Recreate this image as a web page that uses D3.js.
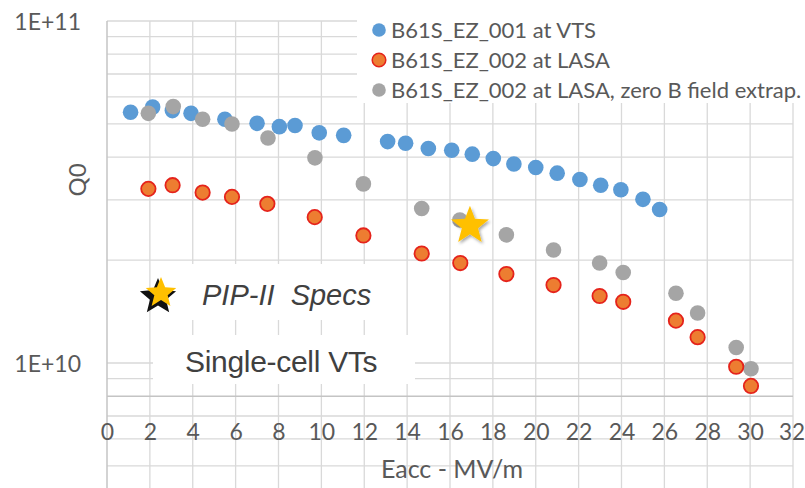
<!DOCTYPE html>
<html>
<head>
<meta charset="utf-8">
<script src="https://cdn.jsdelivr.net/npm/d3@7"></script>
<style>
  html, body { margin: 0; padding: 0; background: #fff; }
  svg { display: block; }
</style>
</head>
<body>
<svg id="chart" width="805" height="488"></svg>
<script>
// ---- data: Q0 versus accelerating gradient (MV/m) ----
const vtsEacc = [1.1, 2.13, 3.05, 3.92, 5.5, 7.0, 8.04, 8.77, 9.9, 11.04, 13.09, 13.93, 14.99, 16.08, 17.04, 18.02, 18.98, 20.0, 21.0, 22.06, 23.03, 23.97, 25.0, 25.78];
const vtsQ0 = [5.41e10, 5.60e10, 5.47e10, 5.37e10, 5.16e10, 5.02e10, 4.91e10, 4.95e10, 4.71e10, 4.63e10, 4.44e10, 4.39e10, 4.24e10, 4.19e10, 4.08e10, 3.96e10, 3.82e10, 3.73e10, 3.59e10, 3.44e10, 3.31e10, 3.21e10, 3.01e10, 2.81e10];

const lasaEacc = [1.93, 3.06, 4.46, 5.83, 7.48, 9.69, 11.96, 14.68, 16.48, 18.63, 20.83, 22.98, 24.08, 26.54, 27.55, 29.35, 30.04];
const lasaQ0 = [3.23e10, 3.31e10, 3.15e10, 3.06e10, 2.92e10, 2.67e10, 2.36e10, 2.09e10, 1.96e10, 1.82e10, 1.69e10, 1.57e10, 1.51e10, 1.33e10, 1.19e10, 9.75e9, 8.57e9];

const extrapEacc = [1.93, 3.09, 4.46, 5.83, 7.51, 9.70, 11.96, 14.68, 16.46, 18.63, 20.83, 22.98, 24.08, 26.54, 27.55, 29.35, 30.04];
const extrapQ0 = [5.37e10, 5.62e10, 5.16e10, 5.00e10, 4.55e10, 3.98e10, 3.34e10, 2.83e10, 2.62e10, 2.37e10, 2.14e10, 1.96e10, 1.84e10, 1.60e10, 1.40e10, 1.11e10, 9.62e9];

// PIP-II specification point
const specEacc = [16.93];
const specQ0 = [2.52e10];

const seriesNames = ["B61S_EZ_001 at VTS", "B61S_EZ_002 at LASA", "B61S_EZ_002 at LASA, zero B field extrap."];
const xTicks = [0, 2, 4, 6, 8, 10, 12, 14, 16, 18, 20, 22, 24, 26, 28, 30, 32];
const yTicks = [1e10, 1e11];
const yTickLabels = ["1E+10", "1E+11"];
const yGridValues = [5e9, 6e9, 7e9, 9e9, 1e10, 2e10, 3e10, 4e10, 5e10, 6e10, 7e10, 8e10, 9e10, 1e11];
const xAxisAt = 8e9;
const xTitle = "Eacc - MV/m";
const yTitle = "Q0";

// ---- layout ----
const W = 805, H = 488;
const x = d3.scaleLinear().domain([0, 32]).range([107, 793]);
const y = d3.scaleLog().domain([1e10, 1e11]).range([363, 21]);

const svg = d3.select("#chart");
const excelFont = "Lato, 'Open Sans', sans-serif";
const arialFont = "'Liberation Sans', Arial, sans-serif";

const defs = svg.append("defs");
const shadow = defs.append("filter").attr("id", "soft").attr("x", "-50%").attr("y", "-50%").attr("width", "200%").attr("height", "200%");
shadow.append("feDropShadow").attr("dx", 1.5).attr("dy", 2).attr("stdDeviation", 1.5)
  .attr("flood-color", "#000").attr("flood-opacity", 0.35);

// ---- grid ----
const grid = svg.append("g");
grid.selectAll("line.h").data(yGridValues).join("line")
  .attr("x1", x(0)).attr("x2", x(32))
  .attr("y1", d => y(d)).attr("y2", d => y(d))
  .attr("stroke", "#d9d9d9").attr("stroke-width", 1.3);
grid.selectAll("line.v").data(xTicks.slice(1)).join("line")
  .attr("x1", d => x(d)).attr("x2", d => x(d))
  .attr("y1", y(1e11)).attr("y2", H)
  .attr("stroke", "#d9d9d9").attr("stroke-width", 1.3);

// axis lines
svg.append("line")
  .attr("x1", x(0)).attr("x2", x(32)).attr("y1", y(xAxisAt)).attr("y2", y(xAxisAt))
  .attr("stroke", "#c4c4c4").attr("stroke-width", 1.5);
svg.append("line")
  .attr("x1", x(0)).attr("x2", x(0)).attr("y1", y(1e11)).attr("y2", H)
  .attr("stroke", "#c4c4c4").attr("stroke-width", 1.5);

// ---- white panels for legend and annotations ----
svg.append("rect").attr("x", 357).attr("y", 0).attr("width", W - 357).attr("height", 103).attr("fill", "#fff");
svg.append("rect").attr("x", 153).attr("y", 264).attr("width", 247).attr("height", 56).attr("fill", "#fff");
svg.append("rect").attr("x", 153).attr("y", 335).attr("width", 262).attr("height", 49).attr("fill", "#fff");

// ---- axes labels ----
const xAxis = svg.append("g")
  .attr("transform", `translate(0,${y(xAxisAt)})`)
  .call(d3.axisBottom(x).tickValues(xTicks).tickSize(0).tickFormat(d3.format("d")));
xAxis.select(".domain").remove();
xAxis.selectAll("text")
  .attr("y", 36).attr("dy", "0.35em")
  .attr("font-family", excelFont).attr("font-size", 23).attr("fill", "#595959");
// keep the last label inside the page edge
xAxis.selectAll(".tick").filter(d => d === 32).select("text").attr("x", -1.5).attr("font-size", 22.5);

const yAxis = svg.append("g")
  .attr("transform", `translate(${x(0)},0)`)
  .call(d3.axisLeft(y).tickValues(yTicks).tickSize(0).tickFormat((d, i) => yTickLabels[i]));
yAxis.select(".domain").remove();
yAxis.selectAll("text")
  .attr("x", -26).attr("dy", "0.35em")
  .attr("font-family", excelFont).attr("font-size", 23).attr("fill", "#595959");

svg.append("text")
  .attr("x", 452).attr("y", 478).attr("text-anchor", "middle")
  .attr("font-family", excelFont).attr("font-size", 25).attr("fill", "#595959")
  .text(xTitle);
svg.append("text")
  .attr("transform", "translate(86,180) rotate(-90)").attr("text-anchor", "middle")
  .attr("font-family", excelFont).attr("font-size", 24).attr("fill", "#595959")
  .text(yTitle);

// ---- star path helper ----
function starPath(R, r) {
  const pts = [];
  for (let i = 0; i < 10; i++) {
    const a = -Math.PI / 2 + i * Math.PI / 5;
    const rad = i % 2 === 0 ? R : r;
    pts.push([rad * Math.cos(a), rad * Math.sin(a)]);
  }
  return d3.line()(pts) + "Z";
}

// ---- data series ----
const pts = svg.append("g");
pts.selectAll("circle.vts").data(vtsEacc).join("circle")
  .attr("cx", d => x(d)).attr("cy", (d, i) => y(vtsQ0[i])).attr("r", 7.8)
  .attr("fill", "#5b9bd5");
pts.selectAll("circle.ext").data(extrapEacc).join("circle")
  .attr("cx", d => x(d)).attr("cy", (d, i) => y(extrapQ0[i])).attr("r", 7.8)
  .attr("fill", "#a5a5a5");
pts.selectAll("circle.lasa").data(lasaEacc).join("circle")
  .attr("cx", d => x(d)).attr("cy", (d, i) => y(lasaQ0[i])).attr("r", 7.2)
  .attr("fill", "#ed7d31").attr("stroke", "#e5231b").attr("stroke-width", 1.8);

// specification star
svg.selectAll("path.spec").data(specEacc).join("path")
  .attr("transform", (d, i) => `translate(${x(d)},${y(specQ0[i])})`)
  .attr("d", starPath(20, 8.5))
  .attr("fill", "#ffc000").attr("filter", "url(#soft)");

// ---- legend ----
const legendColors = [["#5b9bd5", "none"], ["#ed7d31", "#e5231b"], ["#a5a5a5", "none"]];
const legend = svg.append("g");
seriesNames.forEach((name, i) => {
  const gy = 30 + i * 30;
  legend.append("circle").attr("cx", 379).attr("cy", gy).attr("r", 6.8)
    .attr("fill", legendColors[i][0]).attr("stroke", legendColors[i][1]).attr("stroke-width", 1.5);
  legend.append("text").attr("x", 391).attr("y", gy).attr("dy", "0.36em")
    .attr("font-family", excelFont).attr("font-size", 22).attr("fill", "#595959")
    .text(name);
});

// ---- annotations ----
svg.append("path").attr("transform", "translate(158,297)").attr("d", starPath(19, 8.5)).attr("fill", "#111");
svg.append("path").attr("transform", "translate(161,293)").attr("d", starPath(16, 7)).attr("fill", "#ffc000");
svg.append("text").attr("x", 202).attr("y", 305)
  .attr("font-family", arialFont).attr("font-style", "italic").attr("font-size", 29).attr("fill", "#404040")
  .attr("xml:space", "preserve").text("PIP-II  Specs");
svg.append("text").attr("x", 185).attr("y", 372)
  .attr("font-family", arialFont).attr("font-size", 30).attr("fill", "#404040")
  .attr("letter-spacing", -0.3).text("Single-cell VTs");
</script>
</body>
</html>
